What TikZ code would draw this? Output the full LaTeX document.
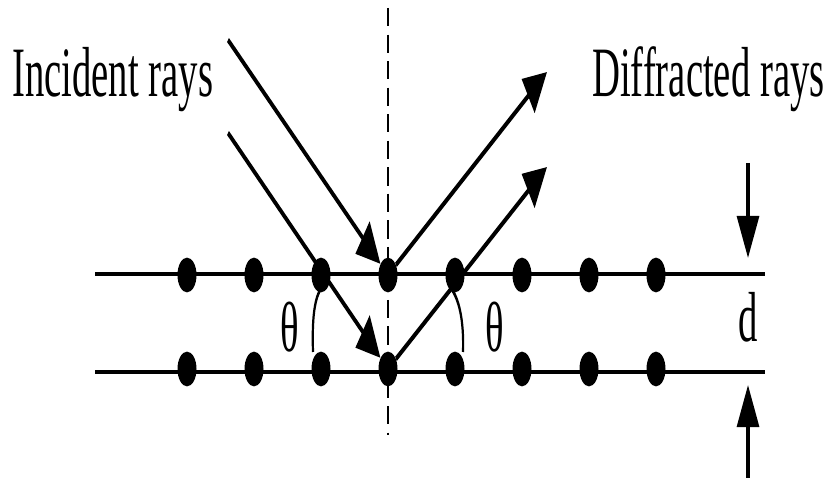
\documentclass[tikz,border=0pt]{standalone}
\usepackage{fontspec}
\setmainfont{Liberation Serif}
\usetikzlibrary{arrows.meta}
\begin{document}
\begin{tikzpicture}[x=1pt,y=-1pt]
\useasboundingbox (0,0) rectangle (833,478);
\begin{scope}[y=-0.54645pt, transform canvas={yscale=1.83},
  dot/.style={circle,fill=black,inner sep=0pt,minimum size=19pt},
  plane/.style={line width=2.1pt},
  ray/.style={line width=2.9pt,-{Triangle[length=23pt,width=22pt]}},
  darrow/.style={line width=3.2pt,-{Triangle[length=23pt,width=22pt]}},
  normalline/.style={line width=2.6pt,dash pattern=on 10pt off 4.5pt},
  anglemark/.style={line width=2.2pt},
  lbl/.style={inner sep=0pt,font=\fontsize{38.7}{40}\selectfont}]
  % planes
  \coordinate (pa1) at (95,274);  \coordinate (pa2) at (765,274);
  \coordinate (pb1) at (95,372);  \coordinate (pb2) at (765,372);
  \draw[plane] (pa1) -- (pa2);
  \draw[plane] (pb1) -- (pb2);
  % normal
  \coordinate (n1) at (388,8); \coordinate (n2) at (388,435);
  \draw[normalline] (n1) -- (n2);
  % atoms
  \foreach \i/\x in {1/187,2/254,3/321,4/388,5/455,6/522,7/589,8/656}{
    \node[dot] (t\i) at (\x,275) {};
    \node[dot] (b\i) at (\x,369) {};
  }
  % incident rays
  \coordinate (i1) at (228,40);
  \coordinate (i2) at (228,133);
  \draw[ray] (i1) -- (t4);
  \draw[ray] (i2) -- (b4);
  % diffracted rays
  \coordinate (d1) at (547,72);
  \coordinate (d2) at (547,167);
  \draw[ray] (t4) -- (d1);
  \draw[ray] (b4) -- (d2);
  % angle marks
  \draw[anglemark] (322,287) .. controls (314,298) and (312,320) .. (313,352);
  \draw[anglemark] (450,287) .. controls (459,298) and (464,320) .. (463,352);
  % spacing arrows
  \coordinate (s1) at (748,163); \coordinate (s2) at (748,258);
  \coordinate (s3) at (748,478); \coordinate (s4) at (748,385);
  \draw[darrow] (s1) -- (s2);
  \draw[darrow] (s3) -- (s4);
  % labels
  \node[lbl,anchor=base west] (inc) at (12,97) {Incident rays};
  \node[lbl,anchor=base west] (dif) at (592,97) {Diffracted rays};
  \node[lbl] (th1) at (290,327) {θ};
  \node[lbl] (th2) at (495,327) {θ};
  \node[lbl] (dd) at (748,317) {d};
\end{scope}
\end{tikzpicture}
\end{document}
